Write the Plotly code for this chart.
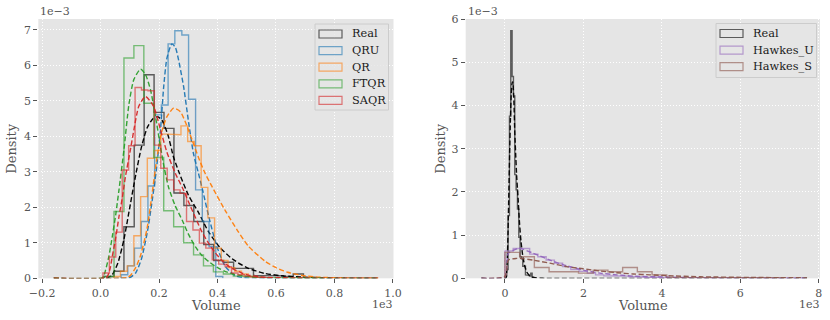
import plotly.graph_objects as go

# ---- left panel: step histograms, bin edges (Volume) and density (x1e-3)
real_edges = [12, 46, 80, 115, 149, 183, 217, 251, 285, 319, 353, 387, 421, 455, 489, 523, 557, 591, 625, 659, 694]
real_dens = [0.05, 0.2, 1.45, 3.75, 5.73, 4.67, 4.22, 2.4, 2.05, 1.6, 0.95, 0.5, 0.45, 0.28, 0.28, 0.08, 0.07, 0.07, 0.05, 0.12]

qru_edges = [70, 93, 116, 139, 162, 185, 208, 231, 254, 278, 301, 325, 348, 371, 394, 418]
qru_dens = [0.1, 0.35, 0.85, 1.6, 2.6, 4.6, 4.88, 6.6, 6.97, 6.85, 5.04, 2.49, 1.6, 0.89, 0.05]

qr_edges = [45, 68, 91, 114, 137, 160, 183, 206, 229, 252, 275, 298, 321, 344, 367, 390, 413, 436, 459, 482, 505, 528]
qr_dens = [0.05, 0.2, 0.35, 1.2, 2.3, 3.38, 3.6, 4.06, 4.06, 4.04, 4.29, 3.85, 3.73, 2.56, 1.7, 0.85, 0.5, 0.3, 0.2, 0.12, 0.05]

ftqr_edges = [12, 46, 80, 114, 148, 182, 216, 250, 284, 318, 352, 386, 420, 454, 488, 522, 556, 590, 624, 658, 692, 726, 760]
ftqr_dens = [0.05, 1.88, 6.2, 6.55, 4.93, 3.4, 1.9, 1.45, 1.0, 0.66, 0.35, 0.18, 0.12, 0.06, 0.05, 0.03, 0.02, 0.02, 0.01, 0.01, 0.01, 0.01]

saqr_edges = [8, 30, 52, 74, 96, 118, 140, 162, 184, 206, 228, 250, 272, 294, 316, 338, 360, 382, 404, 426, 448, 470, 492, 514, 536, 558, 580]
saqr_dens = [0.15, 0.6, 1.3, 3.05, 3.73, 5.37, 5.3, 5.28, 3.75, 3.1, 2.77, 2.49, 2.39, 1.6, 1.36, 0.99, 0.85, 0.52, 0.4, 0.33, 0.15, 0.1, 0.06, 0.04, 0.03, 0.02]

# ---- left panel: fitted densities (dashed)
real_fit_x = [-160, 20, 40, 60, 80, 100, 120, 140, 160, 180, 195, 210, 230, 250, 270, 300, 335, 370, 410, 450, 500, 560, 620, 700, 800, 950]
real_fit_y = [0, 0, 0.1, 0.45, 1.1, 2.0, 2.9, 3.7, 4.25, 4.5, 4.55, 4.45, 4.05, 3.4, 2.95, 2.35, 1.85, 1.3, 0.85, 0.55, 0.3, 0.14, 0.07, 0.03, 0.01, 0]

qru_fit_x = [-160, 60, 100, 120, 140, 160, 175, 190, 205, 216, 227, 244, 256, 267, 284, 301, 318, 335, 350, 370, 398, 427, 461, 500, 600, 950]
qru_fit_y = [0, 0, 0.02, 0.15, 0.55, 1.3, 2.1, 3.0, 4.18, 5.4, 6.2, 6.6, 6.5, 6.14, 5.4, 4.4, 3.5, 2.95, 2.45, 1.74, 0.89, 0.33, 0.07, 0.01, 0, 0]

qr_fit_x = [-160, 60, 90, 102, 120, 137, 159, 175, 193, 210, 227, 250, 273, 290, 313, 335, 355, 380, 427, 472, 506, 563, 600, 640, 690, 750, 850, 950]
qr_fit_y = [0, 0, 0.02, 0.08, 0.3, 0.65, 1.4, 2.3, 3.4, 4.15, 4.55, 4.79, 4.69, 4.4, 3.9, 3.4, 3.0, 2.6, 1.9, 1.3, 0.9, 0.48, 0.3, 0.17, 0.08, 0.03, 0.005, 0]

ftqr_fit_x = [-160, 0, 10, 17, 28, 40, 52, 63, 80, 97, 114, 137, 154, 171, 188, 205, 218, 233, 255, 279, 300, 324, 346, 370, 400, 427, 460, 495, 560, 650, 950]
ftqr_fit_y = [0, 0, 0.05, 0.23, 0.6, 1.17, 1.8, 2.49, 3.62, 4.9, 5.6, 5.89, 5.73, 5.3, 4.55, 3.7, 3.1, 2.55, 2.05, 1.64, 1.25, 0.89, 0.65, 0.47, 0.3, 0.19, 0.11, 0.06, 0.02, 0.005, 0]

saqr_fit_x = [-160, 10, 23, 32, 40, 52, 63, 75, 85, 102, 114, 131, 154, 182, 205, 227, 256, 280, 301, 325, 347, 370, 392, 420, 449, 480, 506, 560, 650, 950]
saqr_fit_y = [0, 0, 0.05, 0.25, 0.61, 1.15, 1.74, 2.3, 2.86, 3.62, 4.18, 4.85, 5.12, 4.83, 4.18, 3.55, 2.95, 2.55, 2.15, 1.7, 1.3, 0.98, 0.72, 0.46, 0.28, 0.16, 0.09, 0.03, 0.01, 0]

# ---- right panel: Hawkes histograms and fits
hu_edges = [0, 210, 420, 630, 840, 1050, 1260, 1470, 1680, 1890, 2100, 2310, 2520, 2730, 2940, 3150, 3360, 3570, 3780, 3990, 4200]
hu_dens = [0.63, 0.69, 0.69, 0.56, 0.5, 0.42, 0.35, 0.27, 0.2, 0.16, 0.12, 0.08, 0.06, 0.06, 0.05, 0.04, 0.03, 0.02, 0.03, 0.01]

hs_edges = [0, 375, 750, 1125, 1500, 1875, 2250, 2625, 3000, 3375, 3750, 4125, 4500, 4875, 5250, 5625, 6000, 6375, 6750, 7125]
hs_dens = [0.6, 0.5, 0.25, 0.15, 0.15, 0.12, 0.19, 0.15, 0.25, 0.15, 0.08, 0.02, 0.02, 0.01, 0.01, 0.005, 0.01, 0.005, 0.01]

hu_fit_x = [-600, 0, 85, 297, 350, 722, 1146, 1571, 1996, 2420, 2845, 3270, 4030, 5000, 7700]
hu_fit_y = [0, 0.04, 0.58, 0.68, 0.7, 0.58, 0.42, 0.29, 0.19, 0.12, 0.08, 0.05, 0.03, 0.01, 0]

hs_fit_x = [-600, 0, 85, 297, 400, 722, 1146, 1571, 1996, 2420, 2845, 3270, 3694, 4137, 4986, 6259, 7000, 7700]
hs_fit_y = [0, 0.04, 0.42, 0.46, 0.46, 0.42, 0.35, 0.27, 0.22, 0.17, 0.13, 0.1, 0.08, 0.06, 0.035, 0.02, 0.015, 0.01]

left_ticks = [-200, 0, 200, 400, 600, 800, 1000]
left_ticktext = ["\u22120.2", "0.0", "0.2", "0.4", "0.6", "0.8", "1.0"]
right_ticks = [0, 2000, 4000, 6000, 8000]
right_ticktext = ["0", "2", "4", "6", "8"]

COLORS = {"Real": "#000000", "QRU": "#1f77b4", "QR": "#ff7f0e", "FTQR": "#2ca02c",
          "SAQR": "#d62728", "Hawkes_U": "#9467bd", "Hawkes_S": "#8c564b"}
FONT = "DejaVu Serif"
W, H = 830, 320


def step_xy(edges, dens):
    xs, ys = [edges[0]], [0]
    for i, d in enumerate(dens):
        xs += [edges[i], edges[i + 1]]
        ys += [d, d]
    xs.append(edges[-1])
    ys.append(0)
    return xs, ys


def add_hist(fig, edges, dens, name, xa, ya):
    xs, ys = step_xy(edges, dens)
    fig.add_trace(go.Scatter(x=xs, y=ys, mode="lines", name=name, opacity=0.6,
                             line=dict(color=COLORS[name], width=1.4),
                             xaxis=xa, yaxis=ya, showlegend=False))


def add_fit(fig, xs, ys, name, xa, ya):
    fig.add_trace(go.Scatter(x=xs, y=ys, mode="lines", opacity=0.95,
                             line=dict(color=COLORS[name], width=1.4, dash="5px,2.5px",
                                       shape="spline", smoothing=0.6),
                             xaxis=xa, yaxis=ya, showlegend=False))


fig = go.Figure()

left = [("Real", real_edges, real_dens, real_fit_x, real_fit_y),
        ("QRU", qru_edges, qru_dens, qru_fit_x, qru_fit_y),
        ("QR", qr_edges, qr_dens, qr_fit_x, qr_fit_y),
        ("FTQR", ftqr_edges, ftqr_dens, ftqr_fit_x, ftqr_fit_y),
        ("SAQR", saqr_edges, saqr_dens, saqr_fit_x, saqr_fit_y)]
for name, e, d, fx, fy in left:
    add_hist(fig, e, d, name, "x", "y")
    add_fit(fig, fx, fy, name, "x", "y")

right_real_fit_x = [-600] + real_fit_x[1:] + [7700]
right_real_fit_y = [0] + real_fit_y[1:] + [0]
right = [("Real", real_edges, real_dens, right_real_fit_x, right_real_fit_y),
         ("Hawkes_U", hu_edges, hu_dens, hu_fit_x, hu_fit_y),
         ("Hawkes_S", hs_edges, hs_dens, hs_fit_x, hs_fit_y)]
for name, e, d, fx, fy in right:
    add_hist(fig, e, d, name, "x2", "y2")
    add_fit(fig, fx, fy, name, "x2", "y2")

y0, y1 = 1 - 278.3 / H, 1 - 19 / H
axis_common = dict(showline=False, zeroline=False, showgrid=True, gridcolor="white",
                   gridwidth=1, griddash="1px,2px", ticks="outside", ticklen=4,
                   tickcolor="#555555", tickwidth=1, automargin=False,
                   tickfont=dict(family=FONT, size=11, color="#555555"))

fig.update_layout(
    template="none",
    width=W, height=H, margin=dict(l=0, r=0, t=0, b=0, pad=0, autoexpand=False),
    paper_bgcolor="white", plot_bgcolor="#E5E5E5", showlegend=False,
    xaxis=dict(domain=[38.3 / W, 393.5 / W], range=[-213, 1002], tickvals=left_ticks,
               ticktext=left_ticktext, anchor="y", **axis_common),
    yaxis=dict(domain=[y0, y1], range=[0, 7.3], tickvals=list(range(8)), anchor="x", **axis_common),
    xaxis2=dict(domain=[465.7 / W, 820 / W], range=[-1000, 8030], tickvals=right_ticks,
                ticktext=right_ticktext, anchor="y2", **axis_common),
    yaxis2=dict(domain=[y0, y1], range=[0, 6.0], tickvals=list(range(7)), anchor="x2", **axis_common),
)

shapes = []
annotations = []


def px(x, y):
    return x / W, 1 - y / H


def text(x, y, s, size=11, color="#555555", xanchor="center", angle=0):
    ax, ay = px(x, y)
    annotations.append(dict(x=ax, y=ay, xref="paper", yref="paper", text=s, showarrow=False,
                            xanchor=xanchor, yanchor="middle", textangle=angle,
                            font=dict(family=FONT, size=size, color=color)))


def legend(x0, y0_, x1, y1_, names):
    a0, b0 = px(x0, y0_)
    a1, b1 = px(x1, y1_)
    shapes.append(dict(type="rect", xref="paper", yref="paper", x0=a0, x1=a1, y0=b1, y1=b0,
                       fillcolor="rgba(229,229,229,0.8)", line=dict(color="#cccccc", width=1)))
    for i, n in enumerate(names):
        cy = y0_ + 10 + i * 16.6
        p0 = px(x0 + 4, cy - 4)
        p1 = px(x0 + 27, cy + 4)
        shapes.append(dict(type="rect", xref="paper", yref="paper", x0=p0[0], x1=p1[0],
                           y0=p1[1], y1=p0[1], fillcolor="rgba(0,0,0,0)", opacity=0.6,
                           line=dict(color=COLORS[n], width=1.2)))
        text(x0 + 35, cy, n, size=11.3, color="#1a1a1a", xanchor="left")


legend(315, 24, 388.5, 110, ["Real", "QRU", "QR", "FTQR", "SAQR"])
legend(716, 23.5, 816.5, 77.5, ["Real", "Hawkes_U", "Hawkes_S"])

# offsets and axis labels
text(38, 11.5, "1e\u22123", xanchor="left")
text(466, 11.5, "1e\u22123", xanchor="left")
text(395, 304, "1e3", xanchor="right")
text(822, 304, "1e3", xanchor="right")
text(215.8, 305.5, "Volume", size=13)
text(643, 305.5, "Volume", size=13)
text(12, 148.7, "Density", size=13, angle=-90)
text(441, 148.7, "Density", size=13, angle=-90)

fig.update_layout(shapes=shapes, annotations=annotations)
fig.write_html("out.html", config={"displayModeBar": False},
               post_script="document.body.style.margin='0';document.body.style.overflow='hidden';")
